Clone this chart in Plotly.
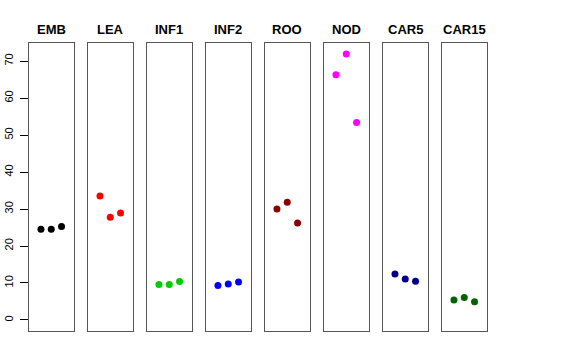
import plotly.graph_objects as go

categories = ["EMB", "LEA", "INF1", "INF2", "ROO", "NOD", "CAR5", "CAR15"]
values = {
    "EMB": [24.5, 24.5, 25.3],
    "LEA": [33.5, 27.8, 28.9],
    "INF1": [9.6, 9.6, 10.4],
    "INF2": [9.3, 9.7, 10.3],
    "ROO": [30.0, 31.8, 26.2],
    "NOD": [66.3, 71.9, 53.4],
    "CAR5": [12.4, 11.1, 10.5],
    "CAR15": [5.4, 6.1, 4.9],
}
colors = ["#000000", "#FF0000", "#00CD00", "#0000FF", "#8B0000", "#FF00FF", "#00008B", "#006400"]
replicates = [1, 2, 3]
y_ticks = [0, 10, 20, 30, 40, 50, 60, 70]

W, H = 576, 360
fig = go.Figure()
left0, pitch, pw = 29.0, 59.0, 44.5
top, bottom = 43.3, 330.7
ydom = [1 - bottom / H, 1 - top / H]

for i, cat in enumerate(categories):
    n = "" if i == 0 else str(i + 1)
    x0 = left0 + i * pitch
    xdom = [x0 / W, (x0 + pw) / W]
    fig.add_trace(go.Scatter(
        x=replicates, y=values[cat], mode="markers",
        marker=dict(color=colors[i], size=7),
        xaxis="x" + n, yaxis="y" + n, showlegend=False, hoverinfo="skip"))
    fig.layout["xaxis" + n] = dict(
        domain=xdom, range=[-0.16, 4.16], showgrid=False, zeroline=False,
        showticklabels=False, ticks="", showline=True, mirror=True,
        linecolor="#555555", linewidth=1, anchor="y" + n, automargin=False)
    yax = dict(
        domain=ydom, range=[-2.9, 74.8], showgrid=False, zeroline=False,
        showline=True, mirror=True, linecolor="#555555", linewidth=1,
        anchor="x" + n, automargin=False)
    if i == 0:
        yax.update(tickvals=y_ticks, ticks="outside", ticklen=8, tickcolor="#000",
                   tickangle=-90, ticklabelstandoff=3,
                   tickfont=dict(family="Liberation Sans", size=11, color="#000"))
    else:
        yax.update(showticklabels=False, ticks="")
    fig.layout["yaxis" + n] = yax
    fig.add_annotation(
        x=(x0 + pw / 2) / W, y=1 - 29 / H, xref="paper", yref="paper",
        text="<b>" + cat + "</b>", showarrow=False,
        font=dict(family="Liberation Sans", size=13, color="#000"),
        xanchor="center", yanchor="middle")

fig.update_layout(width=W, height=H, margin=dict(l=0, r=0, t=0, b=0, autoexpand=False),
                  paper_bgcolor="white", plot_bgcolor="white")
fig.write_html("out.html", config={"displayModeBar": False},
               post_script="document.body.style.margin='0';document.body.style.overflow='hidden';")
